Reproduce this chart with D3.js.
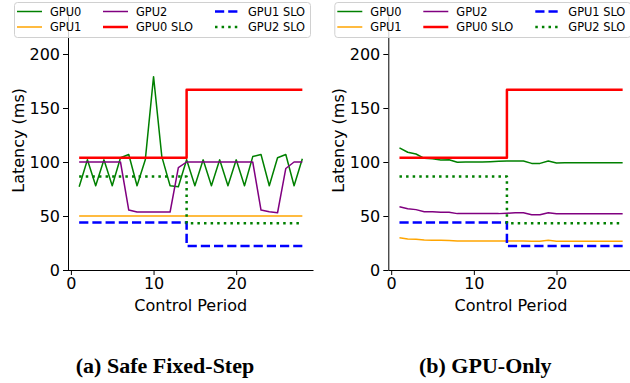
<!DOCTYPE html>
<html>
<head>
<meta charset="utf-8">
<script src="https://cdn.jsdelivr.net/npm/d3@7"></script>
<style>
  body { margin: 0; background: #fff; }
  svg { display: block; font-family: "DejaVu Sans", sans-serif; }
</style>
</head>
<body>
<div id="chart"></div>
<script>
const W = 630, H = 383;

// control periods 1..28
const periods = d3.range(1, 29);

// (a) Safe Fixed-Step
const fixedGpu0 = [77, 102, 78, 102, 78, 104, 107, 78, 102, 179, 105, 78, 77, 102,
                   78, 102, 78, 102, 78, 102, 78, 105, 107, 78, 104, 107, 78, 103];
const fixedGpu1 = [50, 50, 50, 50, 50, 50, 50, 50, 50, 50, 50, 50, 50, 50,
                   50, 50, 50, 50, 50, 50, 50, 50, 50, 50, 50, 50, 50, 50];
const fixedGpu2 = [100, 100, 100, 100, 100, 100, 55.5, 53.7, 53.7, 53.7, 53.7, 53.7, 94.8, 100,
                   100, 100, 100, 100, 100, 100, 100, 100, 55.5, 54, 53, 94, 100, 100];

// (b) GPU-Only
const onlyGpu0 = [113, 109, 107.4, 103.4, 103, 101.8, 102, 99.7, 99.9, 99.9, 100.1, 100.3, 100.6, 100.9,
                  100.9, 101, 98.7, 98.7, 101, 99, 99.2, 99.3, 99.3, 99.3, 99.3, 99.3, 99.3, 99.3];
const onlyGpu1 = [29.9, 28.8, 28.5, 27.8, 27.6, 27.5, 27.3, 26.9, 26.9, 26.9, 26.9, 26.9, 26.9, 26.9,
                  26.9, 26.9, 26.7, 26.7, 27.5, 26.7, 26.6, 26.6, 26.6, 26.6, 26.6, 26.6, 26.6, 26.6];
const onlyGpu2 = [58.6, 56.8, 55.9, 54, 54, 53.4, 53.4, 52.2, 52.2, 52.2, 52.2, 52.2, 52.2, 52.6,
                  53, 53, 51.2, 51.2, 53, 52, 52, 52, 52, 52, 52, 52, 52, 52];

// SLOs (same in both runs), value changes at period 14
const slo0 = periods.map(p => p < 14 ? 104 : 167);
const slo1 = periods.map(p => p < 14 ? 44 : 22.2);
const slo2 = periods.map(p => p < 14 ? 86.5 : 43.2);

const xTicks = [0, 10, 20];
const yTicks = [0, 50, 100, 150, 200];
const legendNames = ["GPU0", "GPU1", "GPU2", "GPU0 SLO", "GPU1 SLO", "GPU2 SLO"];
const captions = ["(a) Safe Fixed-Step", "(b) GPU-Only"];

const styles = [
  {color: "green", width: 1.5, dash: null, step: false},
  {color: "orange", width: 1.5, dash: null, step: false},
  {color: "purple", width: 1.5, dash: null, step: false},
  {color: "red", width: 2.5, dash: null, step: true},
  {color: "blue", width: 2.5, dash: "9.2,4", step: true},
  {color: "green", width: 2.5, dash: "2.5,4.1", step: true}
];

const svg = d3.select("#chart").append("svg")
    .attr("width", W)
    .attr("height", H);

function drawPanel(left, series, caption) {
  const x = d3.scaleLinear().domain([-0.35, 29.35]).range([left, left + 245.5]);
  const y = d3.scaleLinear().domain([0, 240]).range([270, 10.8]);

  const g = svg.append("g");

  series.forEach((vals, k) => {
    const s = styles[k];
    const line = d3.line()
        .x((d, i) => x(periods[i]))
        .y(d => y(d))
        .curve(s.step ? d3.curveStepAfter : d3.curveLinear);
    g.append("path")
        .attr("d", line(vals))
        .attr("fill", "none")
        .attr("stroke", s.color)
        .attr("stroke-width", s.width)
        .attr("stroke-dasharray", s.dash)
        .attr("stroke-linejoin", "round");
  });

  // axes
  const yAxis = g.append("g")
      .attr("transform", `translate(${left},0)`)
      .call(d3.axisLeft(y).tickValues(yTicks).tickSize(5).tickPadding(3));
  const xAxis = g.append("g")
      .attr("transform", "translate(0,270)")
      .call(d3.axisBottom(x).tickValues(xTicks).tickSize(5).tickPadding(3));
  [yAxis, xAxis].forEach(a => {
    a.selectAll("text").attr("font-size", 16).attr("font-family", "DejaVu Sans").attr("fill", "#000");
    a.selectAll("line").attr("stroke", "#000").attr("stroke-width", 1);
    a.select(".domain").attr("stroke", "#000").attr("stroke-width", 1);
  });
  // only spine, no end ticks
  yAxis.select(".domain").attr("d", `M0.5,270V10.8`);
  xAxis.select(".domain").attr("d", `M${left},0.5H${left + 245.5}`);

  g.append("text")
      .attr("transform", `translate(${left - 50},140.4) rotate(-90)`)
      .attr("text-anchor", "middle")
      .attr("dominant-baseline", "central")
      .attr("font-size", 16)
      .text("Latency (ms)");

  g.append("text")
      .attr("x", left + 122.7)
      .attr("y", 305)
      .attr("text-anchor", "middle")
      .attr("dominant-baseline", "central")
      .attr("font-size", 16)
      .text("Control Period");

  // legend
  const lx = left - 54;
  const lg = g.append("g").attr("transform", `translate(${lx},2)`);
  lg.append("rect")
      .attr("x", 0.5).attr("y", 0.5)
      .attr("width", 296).attr("height", 35)
      .attr("rx", 3)
      .attr("fill", "#fff").attr("fill-opacity", 0.8)
      .attr("stroke", "#d0d0d0");
  const colX = [3, 89, 201];
  const rowY = [9.5, 25];
  legendNames.forEach((name, k) => {
    const col = Math.floor(k / 2), row = k % 2;
    const s = styles[k];
    lg.append("line")
        .attr("x1", colX[col]).attr("x2", colX[col] + 25)
        .attr("y1", rowY[row]).attr("y2", rowY[row])
        .attr("stroke", s.color)
        .attr("stroke-width", s.width)
        .attr("stroke-dasharray", s.dash);
    lg.append("text")
        .attr("x", colX[col] + 33)
        .attr("y", rowY[row])
        .attr("dominant-baseline", "central")
        .attr("font-size", 11.4)
        .text(name);
  });

  svg.append("text")
      .attr("x", left + 97)
      .attr("y", 373)
      .attr("text-anchor", "middle")
      .attr("font-family", "Liberation Serif, serif")
      .attr("font-weight", "bold")
      .attr("font-size", 22)
      .text(caption);
}

drawPanel(68, [fixedGpu0, fixedGpu1, fixedGpu2, slo0, slo1, slo2], captions[0]);
drawPanel(388.3, [onlyGpu0, onlyGpu1, onlyGpu2, slo0, slo1, slo2], captions[1]);
</script>
</body>
</html>
